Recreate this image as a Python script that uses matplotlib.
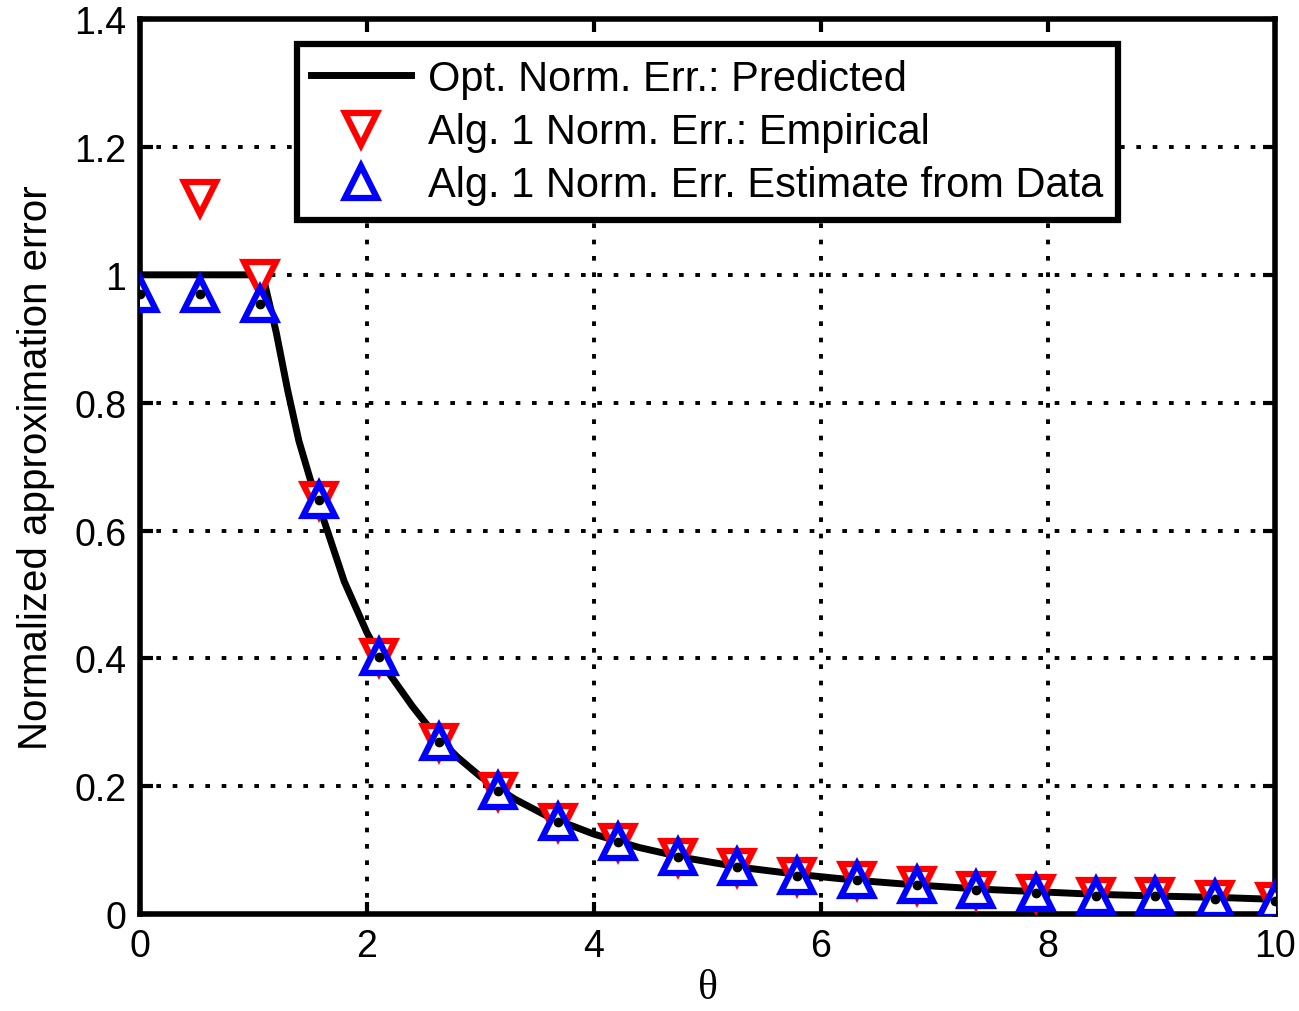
import matplotlib.pyplot as plt
import numpy as np

# predicted curve
theta_line = [0, 1.08, 1.2, 1.3, 1.4, 1.5, 1.65, 1.8, 2.0, 2.2, 2.4, 2.6, 2.8, 3.0, 3.3,
              3.6, 4.0, 4.4, 4.8, 5.3, 5.8, 6.3, 6.8, 7.4, 7.9, 8.4, 9.0, 9.5, 10]
err_pred = [1.0, 1.0, 0.91, 0.82, 0.74, 0.68, 0.60, 0.52, 0.44, 0.375, 0.325, 0.28, 0.245,
            0.215, 0.18, 0.152, 0.125, 0.104, 0.088, 0.073, 0.062, 0.053, 0.046,
            0.039, 0.035, 0.031, 0.028, 0.026, 0.023]

# marker positions
theta_pts = [0, 0.526, 1.053, 1.579, 2.105, 2.632, 3.158, 3.684, 4.211, 4.737,
             5.263, 5.789, 6.316, 6.842, 7.368, 7.895, 8.421, 8.947, 9.474, 10]
err_emp = [np.nan, 1.12, 0.995, 0.648, 0.402, 0.269, 0.193, 0.144, 0.113, 0.089,
           0.073, 0.060, 0.053, 0.045, 0.037, 0.033, 0.028, 0.028, 0.023, 0.020]
err_est = [0.97, 0.97, 0.955, 0.648, 0.402, 0.269, 0.193, 0.144, 0.113, 0.089,
           0.073, 0.060, 0.053, 0.045, 0.037, 0.033, 0.028, 0.028, 0.023, 0.020]

plt.rcParams['font.family'] = ['Liberation Sans', 'DejaVu Sans']

fig = plt.figure(figsize=(12.99, 10.12), dpi=100)
ax = fig.add_axes([0.1078, 0.0958, 0.8737, 0.8843])

ax.plot(theta_line, err_pred, color='black', lw=5, label='Opt. Norm. Err.: Predicted', zorder=3)
ax.plot(theta_pts, err_emp, ls='none', marker='v', ms=23, mew=4.5, mec='red', mfc='white',
        label='Alg. 1 Norm. Err.: Empirical', zorder=4)
ax.plot(theta_pts, err_est, ls='none', marker='^', ms=23, mew=4.5, mec='blue', mfc='white',
        label='Alg. 1 Norm. Err. Estimate from Data', zorder=5)
ax.plot(theta_pts, err_est, ls='none', marker='o', ms=6, color='black', zorder=6)

ax.set_xlim(0, 10)
ax.set_ylim(0, 1.4)
ax.set_xticks(np.arange(0, 11, 2))
ax.set_yticks(np.arange(0, 1.41, 0.2))
ax.set_yticklabels(['0', '0.2', '0.4', '0.6', '0.8', '1', '1.2', '1.4'])

ax.grid(True, color='black', ls=(0, (1.2, 3)), lw=2.8)
ax.tick_params(direction='in', length=9, width=3, top=True, right=True,
               labelsize=27, pad=10)
for sp in ax.spines.values():
    sp.set_linewidth(4)

ax.set_xlabel('θ', fontsize=30, family=['Liberation Serif', 'DejaVu Serif'], labelpad=3)
ax.set_ylabel('Normalized approximation error', fontsize=29, labelpad=14)

leg = ax.legend(loc='upper left', bbox_to_anchor=(0.138, 0.972), borderaxespad=0,
                fontsize=30, handlelength=2.4, fancybox=False, framealpha=1,
                edgecolor='black', borderpad=0.35, labelspacing=0.32, handletextpad=0.4)
leg.get_frame().set_linewidth(4.5)

fig.savefig('out.png', dpi=100)
